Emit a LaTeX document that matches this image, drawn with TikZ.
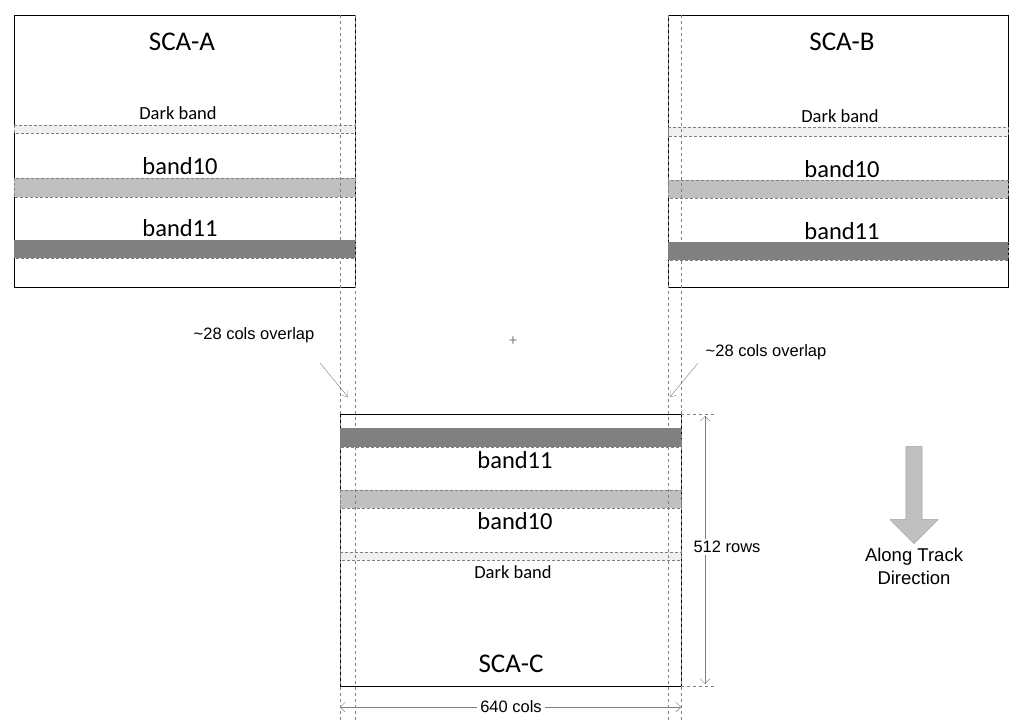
\documentclass[tikz,border=0pt]{standalone}
\usepackage{fontspec}
\setmainfont{Carlito}
\newfontfamily\arialf{Liberation Sans}
\usetikzlibrary{arrows.meta,shapes.arrows,positioning}
\definecolor{bandlight}{HTML}{F0F0F0}
\definecolor{bandmid}{HTML}{C0C0C0}
\definecolor{banddark}{HTML}{808080}
\begin{document}
\begin{tikzpicture}[x=1pt,y=-1pt,
    sca/.style={draw,thin},
    band/.style={draw=gray,densely dashed,very thin},
    guide/.style={draw=gray,dashed,thin},
    lbl/.style={font=\fontsize{24.5}{24.5}\selectfont},
    small/.style={font=\fontsize{18.5}{18.5}\selectfont},
    ttl/.style={font=\fontsize{27}{27}\selectfont},
    note/.style={font=\arialf\fontsize{16.5}{16.5}\selectfont},
    dim/.style={draw=gray,{Straight Barb[length=5pt,width=10pt]}-{Straight Barb[length=5pt,width=10pt]}},
    pointer/.style={draw=gray,-{Straight Barb[length=5pt,width=8pt]}}
]
\useasboundingbox (0,0) rectangle (1024,720);

% SCA-A
\node[sca,minimum width=341pt,minimum height=272pt,anchor=north west,inner sep=0] (scaA) at (14,15) {};
\path[band,fill=bandlight] (14,125) rectangle (355,133);
\path[band,fill=bandmid] (14,178) rectangle (355,197);
\path[band,fill=banddark] (14,240) rectangle (355,258);
\node[ttl] (titleA) at (182,42) {SCA-A};
\node[small] (darkA) at (178,113) {Dark band};
\node[lbl] (b10A) at (180,166) {band10};
\node[lbl] (b11A) at (180,228) {band11};

% SCA-B
\node[sca,minimum width=340pt,minimum height=272pt,anchor=north west,inner sep=0] (scaB) at (668,15) {};
\path[band,fill=bandlight] (668,127) rectangle (1008,136);
\path[band,fill=bandmid] (668,180) rectangle (1008,198);
\path[band,fill=banddark] (668,242) rectangle (1008,260);
\node[ttl] (titleB) at (842,42) {SCA-B};
\node[small] (darkB) at (840,116) {Dark band};
\node[lbl] (b10B) at (842,169) {band10};
\node[lbl] (b11B) at (842,231) {band11};

% SCA-C
\node[sca,minimum width=341pt,minimum height=272pt,anchor=north west,inner sep=0] (scaC) at (340,414) {};
\path[band,fill=banddark] (340,428) rectangle (681,447);
\path[band,fill=bandmid] (340,490) rectangle (681,508);
\path[band,fill=bandlight] (340,552) rectangle (681,560);
\node[lbl] (b11C) at (515,460) {band11};
\node[lbl] (b10C) at (515,521) {band10};
\node[small] (darkC) at (513,572) {Dark band};
\node[ttl] (titleC) at (511,664) {SCA-C};

% overlap guides
\foreach \gx in {340,355,668,681}
  \draw[guide] (\gx,15) -- (\gx,720);

% overlap notes
\node[note] (ovA) at (254,335) {\textasciitilde28 cols overlap};
\node[note] (ovB) at (766,352) {\textasciitilde28 cols overlap};
\coordinate (ovAend) at (348,397);
\coordinate (ovBend) at (670,397);
\draw[pointer] (320,363) -- (ovAend);
\draw[pointer] (698,363) -- (ovBend);
\node[text=gray,font=\fontsize{16}{16}\selectfont] (cross) at (513,341) {+};

% dimensions
\draw[guide] (681,414) -- (715,414);
\draw[guide] (681,686) -- (715,686);
\coordinate (rowTop) at (705,416);
\coordinate (rowBot) at (705,684);
\coordinate (colL) at (340,707);
\coordinate (colR) at (681,707);
\draw[dim] (rowTop) -- (rowBot);
\node[note,fill=white,inner sep=2pt] (rows) at (727,547) {512 rows};
\draw[dim] (colL) -- (colR);
\node[note,fill=white,inner sep=3pt] (cols) at (511,707) {640 cols};

% along track arrow
\node[single arrow,draw=gray!80,fill=bandmid,shape border rotate=270,
      minimum width=48pt,single arrow head extend=12pt,single arrow tip angle=90,
      minimum height=97pt,inner sep=6pt] (track) at (914,491) {};
\node[note,font=\arialf\fontsize{18.5}{23}\selectfont,align=center,below=1pt of track] (trackL) {Along Track\\Direction};
\end{tikzpicture}
\end{document}
